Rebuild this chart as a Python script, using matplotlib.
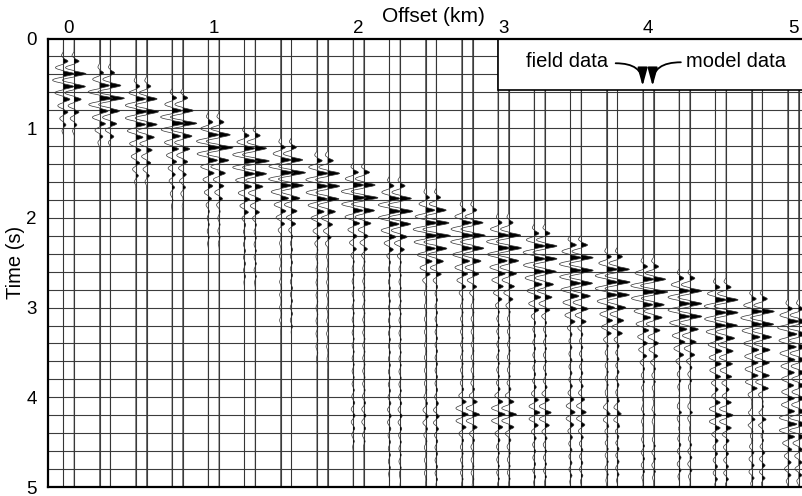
import numpy as np
import matplotlib
matplotlib.use("Agg")
import matplotlib.pyplot as plt
from matplotlib.patches import Rectangle

plt.rcParams['font.family'] = ['Liberation Sans', 'DejaVu Sans']

# Shot gather: one field trace and one model trace per receiver offset (km)
offsets = [0.0, 0.25, 0.5, 0.75, 1.0, 1.25, 1.5, 1.75, 2.0, 2.25, 2.5,
           2.75, 3.0, 3.25, 3.5, 3.75, 4.0, 4.25, 4.5, 4.75, 5.0]

# time (s) of the first positive peak of the direct arrival
first_peak = [0.25, 0.38, 0.53, 0.66, 0.93, 1.08, 1.21, 1.36, 1.49, 1.64, 1.77,
              1.91, 2.05, 2.17, 2.30, 2.43, 2.54, 2.67, 2.77, 2.90, 3.01]

# relative amplitude of successive positive peaks of the arrival
main_amps = [
    [0.35, 0.85, 0.80, 0.50, 0.35, 0.20],
    [0.30, 0.75, 1.00, 0.65, 0.45, 0.25],
    [0.30, 0.75, 0.85, 0.75, 0.55, 0.40, 0.30, 0.20],
    [0.35, 0.75, 1.00, 0.65, 0.50, 0.35, 0.25, 0.20],
    [0.35, 0.80, 1.00, 0.70, 0.45, 0.35, 0.25],
    [0.35, 0.80, 1.00, 0.80, 0.55, 0.40, 0.30],
    [0.35, 0.80, 1.00, 0.85, 0.60, 0.40, 0.30],
    [0.40, 0.85, 0.85, 0.80, 0.55, 0.35, 0.25],
    [0.40, 0.80, 1.00, 0.75, 0.50, 0.30, 0.25],
    [0.35, 0.80, 0.90, 0.75, 0.50, 0.30],
    [0.30, 0.70, 0.90, 1.00, 0.75, 0.50, 0.35],
    [0.30, 0.75, 0.90, 0.80, 0.60, 0.45, 0.30],
    [0.30, 0.85, 0.90, 0.70, 0.55, 0.40, 0.30],
    [0.35, 0.85, 0.85, 0.80, 0.60, 0.50, 0.35],
    [0.45, 0.85, 0.85, 0.80, 0.65, 0.50, 0.35],
    [0.35, 0.85, 0.90, 0.85, 0.60, 0.45, 0.35],
    [0.35, 0.85, 1.00, 0.75, 0.60, 0.45, 0.35, 0.30],
    [0.35, 0.85, 0.85, 0.85, 0.60, 0.45, 0.35],
    [0.35, 0.85, 0.85, 0.80, 0.60, 0.50, 0.45, 0.40],
    [0.35, 0.85, 0.80, 0.65, 0.55, 0.50, 0.50, 0.45],
    [0.35, 0.85, 0.70, 0.65, 0.55, 0.50, 0.45, 0.45],
]

# weak ringing after the arrival, and where each recorded trace stops (s)
coda_amp = [0.0, 0.0, 0.0, 0.07, 0.08, 0.08, 0.08, 0.07, 0.08, 0.08, 0.09,
            0.10, 0.10, 0.11, 0.12, 0.12, 0.13, 0.15, 0.17, 0.20, 0.25]
trace_end = [1.05, 1.15, 1.55, 1.96, 2.40, 2.80, 3.30, 3.70, 4.60, 5.0, 5.0,
             5.0, 5.0, 5.0, 5.0, 5.0, 5.0, 5.0, 5.0, 5.0, 5.0]

# late reflected event near 4.2 s
late_time = [4.2, 4.2, 4.2, 4.2, 4.2, 4.2, 4.2, 4.2, 4.2, 4.2, 4.22,
             4.19, 4.19, 4.17, 4.17, 4.19, 4.19, 4.17, 4.2, 4.25, 4.3]
late_amp = [0.0, 0.0, 0.0, 0.0, 0.0, 0.0, 0.0, 0.0, 0.08, 0.08, 0.15,
            0.40, 0.45, 0.33, 0.25, 0.30, 0.25, 0.33, 0.33, 0.45, 0.45]

# model traces are slightly stronger than the recorded ones
model_gain = 1.08

period = 0.143       # dominant period (s)
pair_sep = 0.037     # half spacing between field and model trace (km)
amp_scale = 0.09     # km of deflection per unit amplitude
peak_sharpness = 1.7


def shaped(phase_t):
    w = np.cos(2 * np.pi * phase_t / period)
    return np.where(w > 0, np.abs(w) ** peak_sharpness, w)


t = np.linspace(0.0, 5.0, 5000)


def trace_signal(i):
    t1 = first_peak[i]
    amps = list(main_amps[i])
    knots_t = [t1 - 0.8 * period] + [t1 + k * period for k in range(len(amps))]
    knots_a = [0.0] + amps
    k = len(amps)
    if coda_amp[i] > 0:
        while t1 + k * period < trace_end[i] - 0.5 * period:
            knots_t.append(t1 + k * period)
            knots_a.append(coda_amp[i])
            k += 1
        knots_t.append(trace_end[i])
    else:
        knots_t.append(t1 + k * period)
    knots_a.append(0.0)
    env = np.interp(t, knots_t, knots_a, left=0.0, right=0.0)
    s = env * shaped(t - t1)
    if late_amp[i] > 0:
        tl = late_time[i]
        s += late_amp[i] * np.exp(-((t - tl) / 0.2) ** 2) * shaped(t - tl)
    return s


fig = plt.figure(figsize=(8.03, 4.96), dpi=100)
ax = fig.add_axes([47.7 / 803, 1 - 487 / 496, 1 - 47.7 / 803, (487 - 38.5) / 496])

x_left, x_right = -0.145, 5.068
ax.set_xlim(x_left, x_right)
ax.set_ylim(5, 0)

grid_c = '#3c3c3c'
ax.hlines(np.arange(0.2, 4.9, 0.2), x_left, x_right, color=grid_c, lw=0.8, zorder=1)

for i, off in enumerate(offsets):
    sig = trace_signal(i)
    for x0, g in ((off - pair_sep, 1.0), (off + pair_sep, model_gain)):
        ax.vlines(x0, 0, 5, color=grid_c, lw=0.8, zorder=1)
        x = x0 + amp_scale * g * sig
        ax.fill_betweenx(t, x0, x, where=sig > 0, color='black', lw=0, zorder=2)
        ax.plot(x, t, color='#333333', lw=0.5, zorder=3)

# legend panel
ax.add_patch(Rectangle((2.965, 0.0), 2.2, 0.575, facecolor='white', edgecolor='black',
                       lw=1.2, zorder=5))
ax.text(3.442, 0.317, 'field data', ha='center', va='baseline', fontsize=14.5, zorder=6)
ax.text(4.607, 0.317, 'model data', ha='center', va='baseline', fontsize=14.5, zorder=6)
arrow_kw = dict(arrowstyle='-|>,head_length=1.1,head_width=0.3', color='black',
                lw=1.3, shrinkA=0, shrinkB=0, mutation_scale=10)
ax.annotate('', xy=(3.961, 0.53), xytext=(3.775, 0.276),
            arrowprops=dict(connectionstyle='angle3,angleA=0,angleB=90', **arrow_kw),
            zorder=6)
ax.annotate('', xy=(4.030, 0.53), xytext=(4.225, 0.265),
            arrowprops=dict(connectionstyle='angle3,angleA=0,angleB=90', **arrow_kw),
            zorder=6)

ax.xaxis.tick_top()
ax.set_xticks(range(6))
ax.set_yticks(range(6))
ax.tick_params(axis='x', length=0, pad=1, labelsize=13.5)
ax.tick_params(axis='y', length=0, pad=8, labelsize=13.5)
for lab in ax.get_yticklabels():
    lab.set_verticalalignment('center_baseline')
for side in ('left', 'top', 'bottom'):
    ax.spines[side].set_linewidth(1.6)
    ax.spines[side].set_zorder(7)
ax.spines['right'].set_visible(False)

fig.text(433 / 803, 1 - 17 / 496, 'Offset (km)', ha='center', va='center', fontsize=15)
fig.text(16 / 803, 1 - 262 / 496, 'Time (s)', ha='center', va='center', rotation=90,
         fontsize=14.5)

fig.savefig('out.png', dpi=100)
